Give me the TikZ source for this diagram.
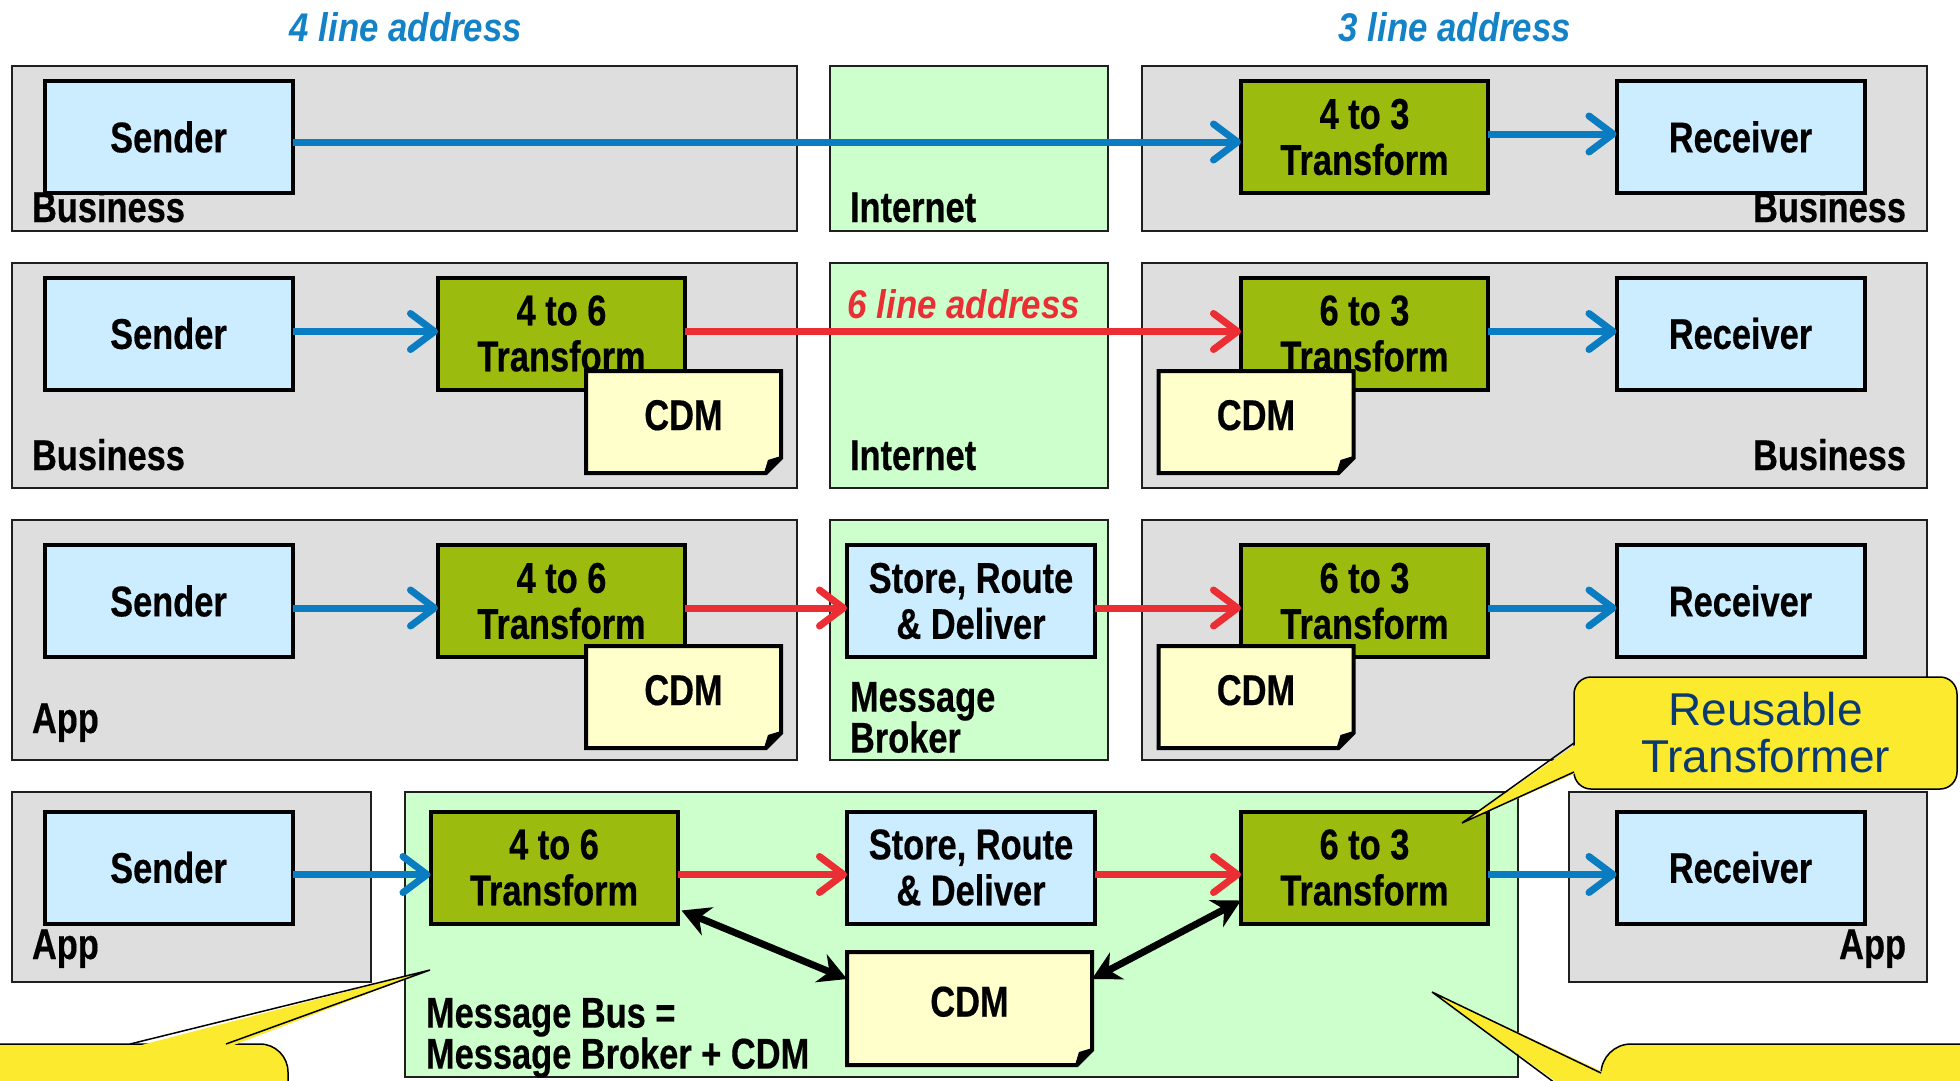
\documentclass[tikz,border=0pt]{standalone}
\usepackage{fontspec}
\setmainfont[FakeStretch=0.8,BoldFeatures={FakeBold=0.4},BoldItalicFeatures={FakeBold=0.4}]{Liberation Sans}
\newfontfamily\callfont{Liberation Sans}
\newfontfamily\titlefont[FakeStretch=0.87]{Liberation Sans}
\usetikzlibrary{arrows.meta,shapes.misc,calc}
\definecolor{panelgray}{HTML}{DEDEDE}
\definecolor{panelgreen}{HTML}{CCFFCC}
\definecolor{boxblue}{HTML}{CCECFF}
\definecolor{trgreen}{HTML}{9BBB0E}
\definecolor{notey}{HTML}{FFFFCC}
\definecolor{arrblue}{HTML}{0A7CC2}
\definecolor{titleblue}{HTML}{1482C6}
\definecolor{arrred}{HTML}{EA2E33}
\definecolor{callyellow}{HTML}{FBEA2D}
\definecolor{navy}{HTML}{0B3A70}
\begin{document}
\begin{tikzpicture}[x=1pt,y=-1pt,
  every node/.style={inner sep=0pt,outer sep=0pt},
  panelg/.style={draw=black!88,line width=2pt,fill=panelgray},
  panelgr/.style={draw=black!88,line width=2pt,fill=panelgreen},
  boxtxt/.style={font=\fontsize{43}{46}\selectfont\bfseries,align=center},
  lbl/.style={font=\fontsize{43}{43}\selectfont\bfseries},
  lbltwo/.style={font=\fontsize{43}{41}\selectfont\bfseries,align=left,anchor=north west},
  actor/.style={boxtxt,draw=black,line width=4pt,fill=boxblue,minimum width=248pt,minimum height=112pt},
  xform/.style={boxtxt,draw=black,line width=4pt,fill=trgreen,minimum width=247pt,minimum height=112pt},
  note/.style={boxtxt,chamfered rectangle,chamfered rectangle corners=south east,chamfered rectangle sep=7.5pt,
    draw=black,line width=4pt,line join=miter,fill=notey,minimum width=195pt,minimum height=102pt,text depth=14pt,
    path picture={\fill[black] ([yshift=17pt]path picture bounding box.south east) -- ([xshift=-17pt]path picture bounding box.south east) -- ([xshift=-13pt,yshift=13pt]path picture bounding box.south east) -- cycle;}},
  titletxt/.style={font=\titlefont\fontsize{40}{40}\selectfont\bfseries\itshape},
  flow/.style={line width=7pt,-{Straight Barb[length=24pt,width=36pt,round]}},
  bflow/.style={flow,draw=arrblue},
  rflow/.style={flow,draw=arrred},
  dflow/.style={line width=7pt,draw=black,{Stealth[length=28pt,width=30pt,inset=9pt]}-{Stealth[length=28pt,width=30pt,inset=9pt]}},
  callout/.style={draw=black,line width=1.5pt,fill=callyellow,rounded corners=17pt},
  pointer/.style={draw=black,line width=1.5pt,line join=miter},
]
\useasboundingbox (0,0) rectangle (1960,1080);
\clip (0,0) rectangle (1960,1080);
\fill[white] (0,0) rectangle (1960,1080);

% titles
\node[titletxt,text=titleblue] (ttl4) at (406,27) {4 line address};
\node[titletxt,text=titleblue] (ttl3) at (1455,27) {3 line address};

% panels
\draw[panelg] (12,66) rectangle (797,231);
\draw[panelgr] (830,66) rectangle (1108,231);
\draw[panelg] (1142,66) rectangle (1927,231);
\draw[panelg] (12,263) rectangle (797,488);
\draw[panelgr] (830,263) rectangle (1108,488);
\draw[panelg] (1142,263) rectangle (1927,488);
\draw[panelg] (12,520) rectangle (797,760);
\draw[panelgr] (830,520) rectangle (1108,760);
\draw[panelg] (1142,520) rectangle (1927,760);
\draw[panelg] (12,792) rectangle (371,982);
\draw[panelgr] (405,792) rectangle (1518,1077);
\draw[panelg] (1569,792) rectangle (1927,982);

% panel labels
\node[lbl,anchor=base west] (lb1) at (32,222) {Business};
\node[lbl,anchor=base west] (li1) at (850,222) {Internet};
\node[lbl,anchor=base east] (lr1) at (1906,222) {Business};
\node[lbl,anchor=base west] (lb2) at (32,470) {Business};
\node[lbl,anchor=base west] (li2) at (850,470) {Internet};
\node[lbl,anchor=base east] (lr2) at (1906,470) {Business};
\node[lbl,anchor=base west] (la3) at (32,733) {App};
\node[lbltwo] (lm3) at (850,682) {Message\\Broker};
\node[lbl,anchor=base west] (la4) at (32,959) {App};
\node[lbl,anchor=base east] (lr4) at (1906,959) {App};
\node[lbltwo] (lm4) at (426,998) {Message Bus =\\Message Broker + CDM};

% row 1
\node[actor] (s1) at (168.5,137) {Sender};
\node[xform] (t1) at (1364.5,137) {4 to 3\\Transform};
\node[actor] (r1) at (1740.5,137) {Receiver};

% row 2
\node[actor] (s2) at (168.5,333.5) {Sender};
\node[xform] (t2a) at (561.5,333.5) {4 to 6\\Transform};
\node[xform] (t2b) at (1364.5,333.5) {6 to 3\\Transform};
\node[actor] (r2) at (1740.5,333.5) {Receiver};
\node[note] (n2a) at (683.5,422) {CDM};
\node[note] (n2b) at (1256,422) {CDM};

% row 3
\node[actor] (s3) at (168.5,601) {Sender};
\node[xform] (t3a) at (561.5,601) {4 to 6\\Transform};
\node[actor] (b3) at (971,601) {Store, Route\\\& Deliver};
\node[xform] (t3b) at (1364.5,601) {6 to 3\\Transform};
\node[actor] (r3) at (1740.5,601) {Receiver};
\node[note] (n3a) at (683.5,697) {CDM};
\node[note] (n3b) at (1256,697) {CDM};

% row 4
\node[actor] (s4) at (168.5,867.5) {Sender};
\node[xform] (t4a) at (554,867.5) {4 to 6\\Transform};
\node[actor] (b4) at (971,867.5) {Store, Route\\\& Deliver};
\node[xform] (t4b) at (1364.5,867.5) {6 to 3\\Transform};
\node[actor] (r4) at (1740.5,867.5) {Receiver};
\node[note,minimum width=245pt,minimum height=113pt] (n4) at (969.5,1008.5) {CDM};

% flows row 1
\draw[bflow] ([yshift=-5pt]s1.east) -- ([yshift=-5pt]t1.west);
\draw[bflow] ([yshift=3pt]t1.east) -- ([yshift=3pt]r1.west);
% row 2
\draw[bflow] ([yshift=2pt]s2.east) -- ([yshift=2pt]t2a.west);
\draw[rflow] ([yshift=2pt]t2a.east) -- ([yshift=2pt]t2b.west);
\draw[bflow] ([yshift=2pt]t2b.east) -- ([yshift=2pt]r2.west);
\node[titletxt,text=arrred] (ttl6) at (964,304) {6 line address};
% row 3
\draw[bflow] ([yshift=-7pt]s3.east) -- ([yshift=-7pt]t3a.west);
\draw[rflow] ([yshift=-7pt]t3a.east) -- ([yshift=-7pt]b3.west);
\draw[rflow] ([yshift=-7pt]b3.east) -- ([yshift=-7pt]t3b.west);
\draw[bflow] ([yshift=-7pt]t3b.east) -- ([yshift=-7pt]r3.west);
% row 4
\draw[bflow] ([yshift=-7pt]s4.east) -- ([yshift=-7pt]t4a.west);
\draw[rflow] ([yshift=-7pt]t4a.east) -- ([yshift=-7pt]b4.west);
\draw[rflow] ([yshift=-7pt]b4.east) -- ([yshift=-7pt]t4b.west);
\draw[bflow] ([yshift=-7pt]t4b.east) -- ([yshift=-7pt]r4.west);
\draw[dflow] ([xshift=4pt,yshift=13pt]t4a.south east) -- ([yshift=-27pt]n4.west |- n4.north);
\draw[dflow] ([yshift=-27pt]n4.east |- n4.north) -- ([yshift=23pt]t4b.south west);

% callouts
\node[callout,minimum width=383pt,minimum height=112pt,font=\callfont\fontsize{46}{47}\selectfont,text=navy,align=center] (rc) at (1765.5,733) {Reusable\\Transformer};
\coordinate (rtip) at (1462,823);
\fill[callyellow] ([xshift=4pt,yshift=-10pt]rc.west) -- (rtip) -- ([xshift=4pt,yshift=-39pt]rc.west) -- cycle;
\draw[pointer] ([yshift=-10pt]rc.west) -- (rtip) -- ([yshift=-39pt]rc.west);

\node[callout,rounded corners=28pt,minimum width=348pt,minimum height=96pt] (cl) at (114,1092) {};
\coordinate (ltip) at (430,970);
\fill[callyellow] ([xshift=-158pt,yshift=-4pt]cl.north east) -- (ltip) -- ([xshift=-62pt,yshift=-4pt]cl.north east) -- cycle;
\draw[pointer] ([xshift=-158pt]cl.north east) -- (ltip) -- ([xshift=-62pt]cl.north east);

\node[callout,rounded corners=30pt,minimum width=419pt,minimum height=116pt] (cr) at (1810.5,1102) {};
\coordinate (brtip) at (1432,992);
\fill[callyellow] ([xshift=4pt,yshift=-29pt]cr.north west) -- (brtip) -- ([xshift=4pt,yshift=-73pt]cr.north west) -- cycle;
\draw[pointer] ([yshift=-29pt]cr.north west) -- (brtip) -- ([yshift=-73pt]cr.north west);
\end{tikzpicture}
\end{document}
